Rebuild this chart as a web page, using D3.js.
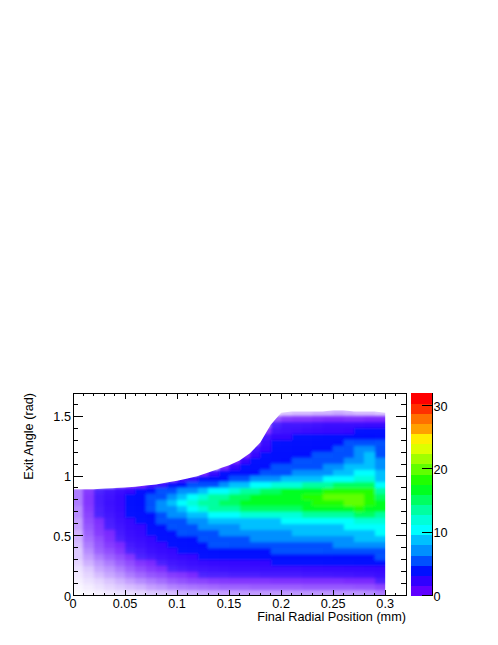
<!DOCTYPE html>
<html><head><meta charset="utf-8">
<script src="https://cdnjs.cloudflare.com/ajax/libs/d3/7.8.5/d3.min.js"></script>
<style>html,body{margin:0;padding:0;background:#fff}svg{display:block}text{font-family:"Liberation Sans",Arial,sans-serif;fill:#000}</style>
</head><body><div id="c"></div>
<script>
const xTitle = "Final Radial Position (mm)";
const yTitle = "Exit Angle (rad)";
const xTicks = [0,0.05,0.1,0.15,0.2,0.25,0.3];
const yTicks = [0,0.5,1,1.5];
const zTicks = [0,10,20,30];
const palette = ["#6000ff","#3000ff","#0010ff","#0050ff","#0090ff","#00c0ff","#00ffff","#00ffd8","#00ffa0","#00ff60","#00ff20","#20ff00","#60ff00","#a0ff00","#ddff00","#ffee00","#ffa000","#ff7000","#ff3000","#ff0000"];
const xStarts = [0,.01,.02,.03,.04,.05,.06,.07,.08,.09,.1,.11,.12,.13,.14,.15,.16,.17,.18,.19,.2,.21,.22,.23,.24,.25,.26,.27,.28,.29];
const upperEdge = [.89,.89,.89,.895,.9,.905,.91,.92,.93,.945,.96,.98,1,1.03,1.06,1.09,1.13,1.19,1.28,1.43,1.53,1.54,1.54,1.54,1.54,1.55,1.55,1.54,1.54,1.54,1.53];
const yStarts = [1.5,1.45,1.4,1.35,1.3,1.25,1.2,1.15,1.1,1.05,1,.95,.9,.85,.8,.75,.7,.65,.6,.55,.5,.45,.4,.35,.3,.25,.2,.15,.1,.05,0];
const counts = [
[0,0,0,0,0,0,0,0,0,0,0,0,0,0,0,0,0,0,0,.1,.2,.25,.25,.3,.3,.35,.3,.25,.25,.2],
[0,0,0,0,0,0,0,0,0,0,0,0,0,0,0,0,0,0,0,.9,1.2,1.3,1.3,1.4,1.5,1.5,1.4,1.4,1.5,1.5],
[0,0,0,0,0,0,0,0,0,0,0,0,0,0,0,0,0,0,.6,1.6,2,2,2.1,2.2,2.4,2.4,2.4,2.5,2.6,2.6],
[0,0,0,0,0,0,0,0,0,0,0,0,0,0,0,0,0,0,1.3,2,2.2,2.3,2.5,2.6,2.8,2.8,3,3.2,3.4,3.4],
[0,0,0,0,0,0,0,0,0,0,0,0,0,0,0,0,0,0,2,3,3,3.2,3.3,3.5,3.6,3.8,4,4.3,4.6,4.2],
[0,0,0,0,0,0,0,0,0,0,0,0,0,0,0,0,0,1,2.5,3.2,3.4,3.6,3.8,4,4.2,4.5,4.8,5.5,6,5],
[0,0,0,0,0,0,0,0,0,0,0,0,0,0,0,0,0,2,3,3.6,3.8,4,4.2,4.4,4.6,5,5.5,6.5,7,5.5],
[0,0,0,0,0,0,0,0,0,0,0,0,0,0,0,0,1.5,2.8,3.4,4,4.2,4.4,4.6,4.8,5,5.5,6,7,8,6],
[0,0,0,0,0,0,0,0,0,0,0,0,0,0,0,1.5,3,3.4,3.8,4.2,4.6,4.8,5,5.2,5.6,6,6.6,7.5,8.5,6.5],
[0,0,0,0,0,0,0,0,0,0,0,0,0,0,1.5,3,3.4,3.8,4.2,4.8,5,5.4,5.6,6,6.5,7,8,9,9,7],
[0,0,0,0,0,0,0,0,0,0,0,0,1.5,2.5,3.2,3.6,4.2,4.6,5,5.6,6,6.4,6.6,7,7.5,8,9,10,10,8],
[0,0,0,0,0,0,0,0,0,1,2,3,3.6,4,4.6,5.2,5.8,6.4,7,7.5,8,8.4,9,9.5,10,10.5,11,11.5,12,9],
[0,0,0,0,.6,1,1.5,2,2.6,3.2,4,4.8,5.6,6.2,7,8,9,10,11,11.5,12,12.5,13,13.5,14,14.5,15,15,15,11],
[.6,1.2,1.6,2,2.4,3,3.4,4,4.8,5.5,6.5,7.5,9,10,11,12,13,14,15,15.5,16,16.5,17,17.5,18,18.5,19,19,18,14],
[.6,1.3,1.8,2.2,2.8,3.4,4,5,6,7,8.5,10,11.5,13,14,15,15.5,16,16.5,17,17,17.5,18,19,19.5,20,20,20,19,15],
[.6,1.3,1.8,2.3,2.8,3.6,4.4,5.6,7,8,10,11.5,13,14,15,15.5,16,16,16,16.5,16.5,17,17.5,18,18.5,19,19.5,19.5,18.5,16],
[.5,1.2,1.7,2.2,2.7,3.4,4.2,5,6.5,7.5,9,10.5,11.5,13,14,14,14.5,14.5,15,15,15,15.5,16,16.5,17,17,17.5,18,17,16.5],
[.5,1.1,1.6,2,2.5,3.2,3.8,4.6,5.6,6.5,7.5,8.5,9.5,10,11,11,11.5,11.5,12,12,12,12.5,13,13,13.5,14,14,14.5,14.5,14],
[.4,1,1.4,1.8,2.3,2.8,3.4,4,4.8,5.5,6.3,7,7.6,8,8.5,9,9,9.5,9.5,9.5,10,10,10,10.5,10.5,11,11,11.5,12,12.5],
[.4,.9,1.3,1.7,2.1,2.6,3,3.6,4.2,4.8,5.4,6,6.6,7,7.5,7.8,8,8,8.5,8.5,8.5,9,9,9,9.5,9.5,10,10,10.5,11],
[.3,.8,1.2,1.5,1.9,2.4,2.8,3.2,3.8,4.2,4.8,5.2,5.8,6.2,6.6,7,7,7.2,7.5,7.5,7.5,8,8,8,8.5,8.5,9,9,9.5,10],
[.3,.7,1,1.4,1.7,2.2,2.5,3,3.4,3.8,4.2,4.6,5,5.4,5.8,6,6.2,6.4,6.5,6.6,6.6,6.8,7,7,7.2,7.5,7.5,8,8,8.5],
[.25,.6,.9,1.2,1.5,1.9,2.2,2.6,3,3.4,3.7,4,4.4,4.8,5,5.2,5.4,5.5,5.5,5.6,5.8,5.8,6,6,6.2,6.4,6.6,6.8,7,7],
[.2,.5,.8,1,1.3,1.6,1.9,2.3,2.6,2.9,3.2,3.5,3.8,4,4.3,4.5,4.6,4.6,4.7,4.8,4.8,5,5,5,5.2,5.2,5.4,5.6,5.6,5.8],
[.2,.4,.6,.8,1,1.3,1.6,1.9,2.2,2.5,2.7,3,3.2,3.4,3.6,3.7,3.8,3.8,3.9,3.9,4,4,4,4.1,4.2,4.3,4.4,4.5,4.6,4.8],
[.15,.3,.45,.6,.8,1,1.3,1.5,1.7,2,2.2,2.4,2.6,2.8,2.9,3,3,3.1,3.1,3.2,3.2,3.2,3.3,3.3,3.4,3.5,3.5,3.6,3.7,3.8],
[.1,.2,.35,.45,.6,.8,1,1.2,1.4,1.6,1.8,2,2.1,2.2,2.3,2.4,2.4,2.4,2.5,2.5,2.5,2.5,2.6,2.6,2.7,2.7,2.8,2.8,2.9,3],
[.08,.15,.25,.35,.45,.6,.75,.9,1,1.2,1.3,1.5,1.6,1.7,1.7,1.8,1.8,1.8,1.9,1.9,1.9,1.9,2,2,2,2.1,2.1,2.2,2.2,2.4],
[.05,.1,.15,.22,.3,.4,.5,.6,.7,.85,.95,1.05,1.1,1.2,1.25,1.3,1.3,1.3,1.3,1.35,1.35,1.35,1.4,1.4,1.4,1.4,1.5,1.5,1.5,1.7],
[.03,.06,.1,.15,.2,.25,.3,.4,.45,.55,.6,.65,.7,.75,.8,.8,.8,.85,.85,.85,.85,.85,.9,.9,.9,.9,.9,.95,.95,1.1],
[.01,.03,.05,.08,.1,.12,.15,.2,.22,.25,.3,.32,.35,.38,.4,.4,.42,.42,.42,.42,.42,.45,.45,.45,.45,.45,.45,.45,.5,.6]
];
const xMax = 0.32, yMax = 1.695, zMax = 32;
const L = 73, R = 406, T = 393, B = 595.5, BL = 411, BR = 432;
const fs = 12.7;
const x = d3.scaleLinear().domain([0,xMax]).range([L,R]);
const y = d3.scaleLinear().domain([0,yMax]).range([B,T]);
const zPos = d3.scaleLinear().domain([0,zMax]).range([B,T]);
const color = d3.scaleQuantize().domain([0,zMax]).range(palette);
const dx = 0.01, dy = 0.05;
const svg = d3.select("#c").append("svg").attr("width",498).attr("height",645);
const defs = svg.append("defs");
const edgeArea = d3.area().x((d,i)=>x(i*dx)).y0(y(0)).y1(d=>y(d));
defs.append("clipPath").attr("id","edge").append("path").attr("d",edgeArea(upperEdge));
defs.append("filter").attr("id","soft").attr("filterUnits","userSpaceOnUse")
  .attr("x",L-20).attr("y",T-20).attr("width",R-L+40).attr("height",B-T+40)
  .append("feGaussianBlur").attr("stdDeviation",1.7);
const cells = [];
// edge cells are stretched past the plot so the softening does not fade at the clip boundary
counts.forEach((row,r)=>row.forEach((v,c)=>{ if(v>0) cells.push({
  x0:xStarts[c]-(c===0?dx:0), x1:xStarts[c]+dx+(c===row.length-1?dx:0),
  y0:yStarts[r]-(r===counts.length-1?dy:0), y1:yStarts[r]+dy, v}); }));
svg.append("g").attr("clip-path","url(#edge)")
 .append("g").attr("filter","url(#soft)").attr("shape-rendering","crispEdges")
 .selectAll("rect").data(cells).join("rect")
 .attr("x",d=>x(d.x0)).attr("width",d=>x(d.x1)-x(d.x0))
 .attr("y",d=>y(d.y1)).attr("height",d=>y(d.y0)-y(d.y1))
 .attr("fill",d=>color(d.v))
 .attr("fill-opacity",d=>1-Math.exp(-1.2*d.v));
svg.append("g").attr("shape-rendering","crispEdges").selectAll("rect").data(palette).join("rect")
 .attr("x",BL).attr("width",BR-BL)
 .attr("y",(d,i)=>zPos((i+1)*zMax/palette.length))
 .attr("height",zPos(0)-zPos(zMax/palette.length)+0.5)
 .attr("fill",d=>d);
const axes = svg.append("g").attr("stroke","#000").attr("stroke-width",1).attr("shape-rendering","crispEdges").attr("fill","none");
axes.append("rect").attr("x",L).attr("y",T).attr("width",R-L).attr("height",B-T);
axes.append("line").attr("x1",BR).attr("x2",BR).attr("y1",T).attr("y2",B);
const xMinor = d3.range(0,33).map(i=>i*0.01);
const yMinor = d3.range(0,17).map(i=>i*0.1);
xMinor.forEach(v=>{const maj=Math.abs(v/0.05-Math.round(v/0.05))<1e-6, l=maj?6:3;
  [[B,B-l],[T,T+l]].forEach(p=>axes.append("line").attr("x1",x(v)).attr("x2",x(v)).attr("y1",p[0]).attr("y2",p[1]));});
yMinor.forEach(v=>{const maj=Math.abs(v/0.5-Math.round(v/0.5))<1e-6, l=maj?10:5;
  [[L,L+l],[R,R-l]].forEach(p=>axes.append("line").attr("y1",y(v)).attr("y2",y(v)).attr("x1",p[0]).attr("x2",p[1]));});
zTicks.forEach(v=>axes.append("line").attr("y1",zPos(v)).attr("y2",zPos(v)).attr("x1",BR).attr("x2",BR-10));
const label=(t,px,py,a)=>svg.append("text").attr("x",px).attr("y",py).attr("text-anchor",a).attr("font-size",fs).text(t);
xTicks.forEach(v=>label(d3.format("~g")(v),x(v),608,"middle"));
yTicks.forEach(v=>label(d3.format("~g")(v),71,y(v)+5,"end"));
zTicks.forEach(v=>label(d3.format("~g")(v),433.5,zPos(v)+5,"start"));
label(xTitle,R,621,"end");
svg.append("text").attr("transform",`translate(33,${T}) rotate(-90)`).attr("text-anchor","end").attr("font-size",fs).text(yTitle);
</script></body></html>
